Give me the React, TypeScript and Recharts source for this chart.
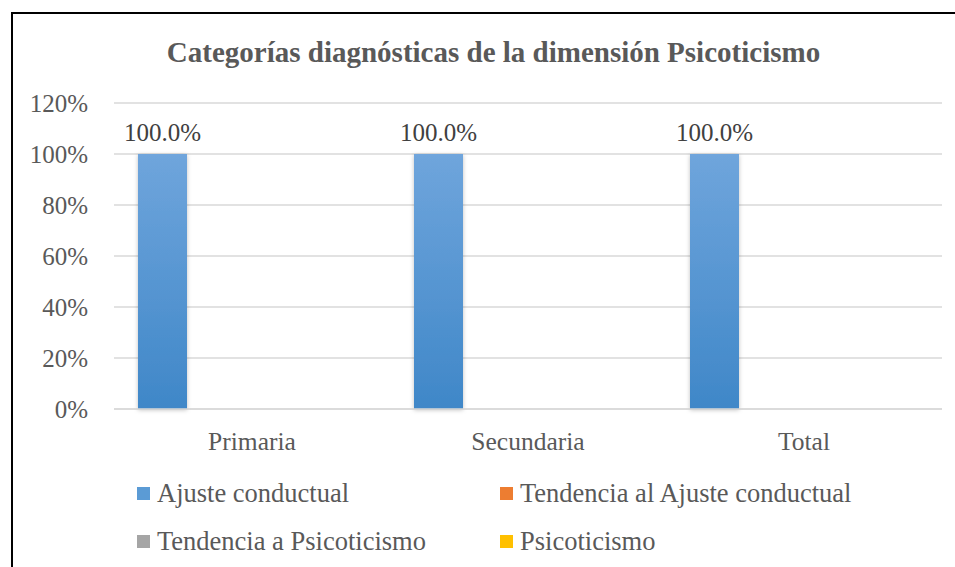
import React from 'react';
import { BarChart, Bar, XAxis, YAxis, CartesianGrid, LabelList } from 'recharts';

const categories = ['Primaria', 'Secundaria', 'Total'];
const ajusteConductual = [1.0, 1.0, 1.0];
const tendenciaAjuste = [0, 0, 0];
const tendenciaPsicoticismo = [0, 0, 0];
const psicoticismo = [0, 0, 0];
const yTicks = [0, 0.2, 0.4, 0.6, 0.8, 1.0, 1.2];

const seriesInfo = [
    { key: 'ajuste', name: 'Ajuste conductual', color: '#5b9bd5' },
    { key: 'tendAjuste', name: 'Tendencia al Ajuste conductual', color: '#ed7d31' },
    { key: 'tendPsico', name: 'Tendencia a Psicoticismo', color: '#a5a5a5' },
    { key: 'psico', name: 'Psicoticismo', color: '#ffc000' },
];

const data = categories.map((c, i) => ({
    name: c,
    ajuste: ajusteConductual[i],
    tendAjuste: tendenciaAjuste[i],
    tendPsico: tendenciaPsicoticismo[i],
    psico: psicoticismo[i],
}));

const FONT = '"Liberation Serif", "Times New Roman", serif';

export default function App() {
    return (
        <div style={{ position: 'absolute', left: 0, top: 0, width: 955, height: 567, background: '#fff', overflow: 'hidden', fontFamily: FONT }}>
            {/* chart frame, only top/left visible in the crop */}
            <div style={{ position: 'absolute', left: 11, top: 12, width: 1000, height: 600, borderTop: '2px solid #000', borderLeft: '2px solid #000' }} />

            <div style={{ position: 'absolute', left: 0, width: 987, top: 36, textAlign: 'center', fontSize: 29, fontWeight: 'bold', color: '#595959' }}>
                Categorías diagnósticas de la dimensión Psicoticismo
            </div>

            <div style={{ position: 'absolute', left: 0, top: 0 }}>
                <BarChart
                    width={955}
                    height={567}
                    data={data}
                    margin={{ top: 103, right: 13, left: 0, bottom: 118 }}
                    barCategoryGap={24}
                    barGap={11}
                >
                    <defs>
                        <linearGradient id="blueGrad" x1="0" y1="0" x2="0" y2="1">
                            <stop offset="0%" stopColor="#6fa5dc" />
                            <stop offset="100%" stopColor="#3f87c8" />
                        </linearGradient>
                        <filter id="barShadow" x="-20%" y="-5%" width="140%" height="110%">
                            <feDropShadow dx="0" dy="1" stdDeviation="2" floodColor="#000" floodOpacity="0.25" />
                        </filter>
                    </defs>
                    <CartesianGrid vertical={false} stroke="#d9d9d9" strokeWidth={1.5} />
                    <XAxis
                        dataKey="name"
                        axisLine={{ stroke: '#d9d9d9', strokeWidth: 1.5 }}
                        tickLine={false}
                        height={40}
                        tickMargin={17}
                        tick={{ fill: '#595959', fontSize: 25.5, fontFamily: FONT }}
                    />
                    <YAxis
                        domain={[0, 1.2]}
                        ticks={yTicks}
                        interval={0}
                        width={114}
                        axisLine={false}
                        tickLine={false}
                        tickSize={0}
                        tickMargin={26}
                        tickFormatter={(v: number) => `${Math.round(v * 100)}%`}
                        tick={{ fill: '#595959', fontSize: 25, fontFamily: FONT }}
                    />
                    <Bar dataKey="ajuste" name="Ajuste conductual" fill="url(#blueGrad)" filter="url(#barShadow)" isAnimationActive={false}>
                        <LabelList
                            dataKey="ajuste"
                            position="top"
                            offset={13}
                            formatter={(v: any) => `${(Number(v) * 100).toFixed(1)}%`}
                            style={{ fill: '#404040', fontSize: 25, fontFamily: FONT }}
                        />
                    </Bar>
                    <Bar dataKey="tendAjuste" name="Tendencia al Ajuste conductual" fill="#ed7d31" isAnimationActive={false} />
                    <Bar dataKey="tendPsico" name="Tendencia a Psicoticismo" fill="#a5a5a5" isAnimationActive={false} />
                    <Bar dataKey="psico" name="Psicoticismo" fill="#ffc000" isAnimationActive={false} />
                </BarChart>
            </div>

            {/* legend, 2 columns x 2 rows */}
            {seriesInfo.map((s, i) => {
                const col = i % 2;
                const row = Math.floor(i / 2);
                const left = col === 0 ? 137 : 500;
                const top = row === 0 ? 493 : 541;
                return (
                    <div key={s.key} style={{ position: 'absolute', left, top: top - 16, height: 32, display: 'flex', alignItems: 'center', color: '#595959', fontSize: 26.5, whiteSpace: 'nowrap' }}>
                        <span style={{ display: 'inline-block', width: 13, height: 13, background: s.color, marginRight: 7 }} />
                        {s.name}
                    </div>
                );
            })}
        </div>
    );
}
